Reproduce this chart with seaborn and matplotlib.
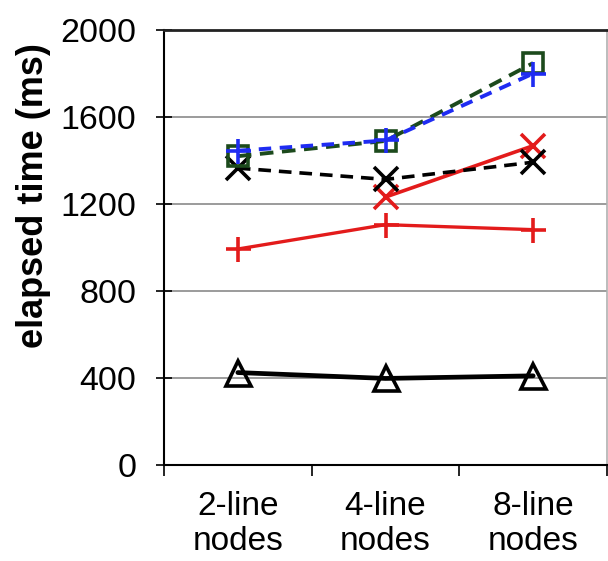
import numpy as np
import pandas as pd
import matplotlib
matplotlib.use("Agg")
import matplotlib.pyplot as plt
import seaborn as sns

# Category labels along the x axis
categories = ["2-line\nnodes", "4-line\nnodes", "8-line\nnodes"]

# Elapsed time (ms) per configuration
tri_black = [425, 398, 410]
plus_red = [993, 1105, 1082]
x_red = [np.nan, 1232, 1468]
x_black = [1365, 1313, 1392]
sq_green = [1420, 1490, 1848]
plus_blue = [1445, 1492, 1800]

yticks = [0, 400, 800, 1200, 1600, 2000]

sns.set_theme(style="white")
plt.rcParams["font.family"] = ["Liberation Sans", "DejaVu Sans"]
plt.rcParams["text.color"] = "black"
plt.rcParams["axes.labelcolor"] = "black"
plt.rcParams["xtick.color"] = "black"
plt.rcParams["ytick.color"] = "black"

fig = plt.figure(figsize=(6.08, 5.61), dpi=100)
ax = fig.add_axes([164 / 608, 96 / 561, (607 - 164) / 608, (465 - 30) / 561])

xpos = np.arange(len(categories))

series = [
    (tri_black, "black", "^", "-", 3.4, 18),
    (plus_red, "#e31b1b", "+", "-", 2.4, 18),
    (x_red, "#e31b1b", "x", "-", 2.6, 17),
    (x_black, "black", "x", (0, (3.5, 2.2)), 2.6, 17),
    (sq_green, "#1c4a1c", "s", (0, (3.5, 2.2)), 2.8, 15),
    (plus_blue, "#1f2cf2", "+", (0, (3.2, 2.2)), 2.8, 18),
]

for vals, color, marker, ls, lw, ms in series:
    df = pd.DataFrame({"x": xpos, "y": vals}).dropna()
    sns.lineplot(data=df, x="x", y="y", ax=ax, color=color, marker=marker,
                 linestyle=ls, linewidth=lw, markersize=ms,
                 markerfacecolor="none", markeredgecolor=color,
                 markeredgewidth=2.6, zorder=3)

ax.set_xlim(-0.5, len(categories) - 0.5)
ax.set_ylim(0, 2000)
ax.set_yticks(yticks)
ax.set_yticklabels([str(v) for v in yticks])
ax.set_xticks(xpos)
ax.set_xticklabels(categories, linespacing=1.15)
ax.set_xticks(np.arange(-0.5, len(categories)), minor=True)

ax.tick_params(axis="y", which="major", direction="inout", length=12, width=1.2,
               color="black", labelsize=24.5, pad=14, left=True)
ax.tick_params(axis="x", which="major", length=0, labelsize=24, pad=19)
ax.tick_params(axis="x", which="minor", direction="out", length=8, width=1.2,
               color="black", bottom=True)

ax.grid(axis="y", color="#8a8a8a", linewidth=1.2)
ax.set_axisbelow(True)

for side in ["left", "bottom"]:
    ax.spines[side].set_color("black")
    ax.spines[side].set_linewidth(1.5)
ax.spines["top"].set_color("#222222")
ax.spines["top"].set_linewidth(2.0)
ax.spines["right"].set_color("#b0b0b0")
ax.spines["right"].set_linewidth(1.2)

ax.set_xlabel("")
ax.set_ylabel("elapsed time (ms)", fontsize=26, fontweight="bold")
ax.yaxis.set_label_coords(-0.255, 0.62)

fig.savefig("out.png", dpi=100, facecolor="white")
